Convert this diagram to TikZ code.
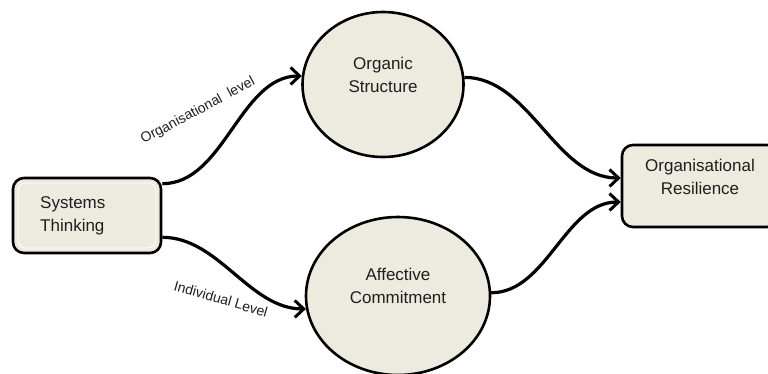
\documentclass[tikz,border=0pt]{standalone}
\usepackage{fontspec}
\setmainfont{Liberation Sans}
\usetikzlibrary{arrows.meta,calc,shapes.geometric}
\definecolor{boxfill}{HTML}{EDEBE0}
\definecolor{txtcol}{HTML}{1E1E1E}
\tikzset{
  rbox/.style={draw=black,line width=2.6pt,fill=boxfill,rounded corners=11pt,inner sep=0pt},
  ellip/.style={ellipse,draw=black,line width=2.6pt,fill=boxfill,inner sep=0pt},
  maintxt/.style={text=txtcol,font=\fontsize{17}{23}\selectfont,inner sep=0pt},
  lbltxt/.style={text=txtcol,font=\fontsize{14}{16}\selectfont,inner sep=0pt},
  conn/.style={line width=3.2pt,-{Straight Barb[length=9pt,width=17pt,line width=3pt]}},
}
\begin{document}
\begin{tikzpicture}[x=1pt,y=-1pt]
\useasboundingbox (0,0) rectangle (768,373);
% shapes
\node[rbox,minimum width=148pt,minimum height=75pt] (st) at (87,215.5) {};
\draw[white,line width=0.8pt,rounded corners=8pt] (18,183) rectangle (156,248);
\node[maintxt,align=left,anchor=west] (sttxt) at (40,216) {Systems\\Thinking};

\node[ellip,minimum width=161pt,minimum height=145pt] (os) at (383,84.5) {};
\node[maintxt,align=center] (ostxt) at (383,75) {Organic\\Structure};

\node[ellip,minimum width=184pt,minimum height=158pt] (ac) at (398,296) {};
\node[maintxt,align=center] (actxt) at (398,286) {Affective\\Commitment};

\node[rbox,minimum width=156pt,minimum height=82pt] (res) at (700,186) {};
\node[maintxt,align=center] (restxt) at (700,177) {Organisational\\Resilience};

% connectors
\coordinate (s1) at ($(st.north east)+(0pt,-7pt)$);
\coordinate (s2) at ($(st.south east)+(0pt,17pt)$);
\coordinate (r1) at ($(res.west)+(0pt,8pt)$);
\coordinate (r2) at ($(res.west)+(0pt,-16pt)$);
\draw[conn] (s1) to[out=0,in=180,looseness=0.9] (os.174);
\draw[conn] (s2) to[out=0,in=180,looseness=0.9] (ac.188);
\draw[conn] (os.5) to[out=0,in=180,looseness=0.9] (r1);
\draw[conn] (ac.2) to[out=0,in=180,looseness=0.9] (r2);

% labels
\node[lbltxt,rotate=28] (l1) at (198,111) {Organisational\ \ level};
\node[lbltxt,rotate=-16] (l2) at (221,299) {Individual\ Level};
\end{tikzpicture}
\end{document}
